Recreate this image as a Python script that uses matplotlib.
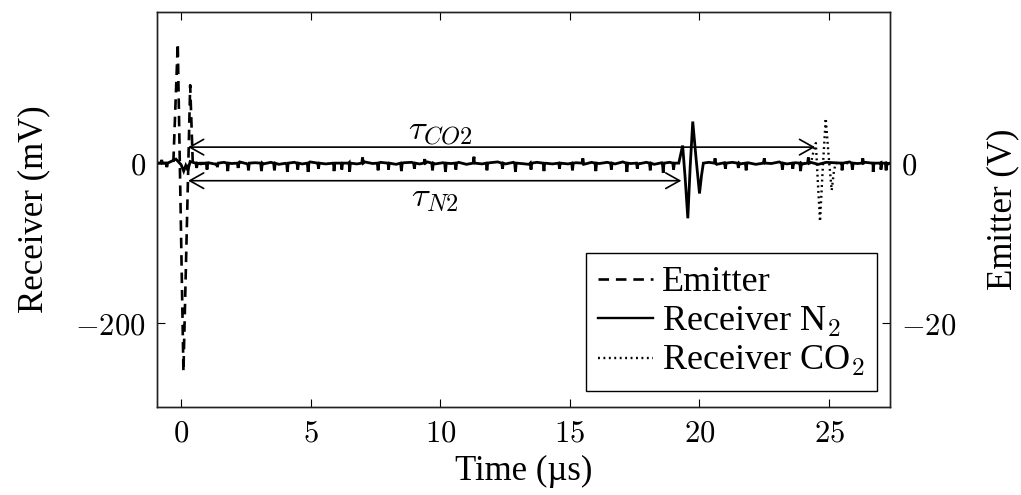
import numpy as np
import matplotlib
matplotlib.use("Agg")
import matplotlib.pyplot as plt
from matplotlib.lines import Line2D

plt.rcParams['font.family'] = ['Liberation Serif', 'DejaVu Serif']
plt.rcParams['mathtext.fontset'] = 'cm'

# ---------------- data ----------------
x_range = [-0.93, 27.35]          # time axis extent (µs)
y_left_range = [-305, 189]        # receiver (mV)
y_right_range = [-30.5, 18.9]     # emitter (V)

x_ticks = [0, 5, 10, 15, 20, 25]
y_left_ticks = [-200, 0]
y_right_ticks = [-20, 0]

# Emitter pulse (V)
emitter_t = [-0.93, -0.30, -0.13, 0.09, 0.35, 0.45, 1.0]
emitter_v = [0, 0, 15.0, -26.1, 9.75, 0, 0]

# Receiver N2 burst (mV)
n2_burst_t = [19.20, 19.28, 19.35, 19.45, 19.55, 19.64, 19.74, 19.87, 20.00, 20.08, 20.15]
n2_burst_v = [0, 12, 22, -20, -69, -5, 52, 5, -38, -15, 0]

# Receiver N2 disturbance near t = 0 (mV)
n2_start_t = [-0.20, 0.00, 0.10, 0.18, 0.26, 0.35]
n2_start_v = [5, -2, -10, -3, -9, 2]

# Receiver N2 noise spikes (mV)
spike_t = [-0.75, -0.55, 0.6, 1.0, 1.4, 1.8, 2.2, 2.6, 3.1, 3.6, 4.1, 4.5, 4.9, 5.3,
           5.9, 6.2, 6.5, 7.0, 7.6, 8.0, 8.5, 9.0, 9.4, 9.7, 10.2, 10.6, 11.3, 11.8,
           12.4, 12.9, 13.5, 14.0, 14.6, 15.1, 15.5, 16.0, 16.6, 17.2, 17.6, 18.1,
           18.6, 19.0, 20.6, 21.0, 21.5, 21.8, 22.5, 23.2, 23.6, 23.9, 24.2, 25.5,
           25.9, 26.3, 26.7, 27.0, 27.2]
spike_v = [4, -5, -6, -8, -5, -10, -6, -9, -10, -9, -11, -8, -11, -7,
           -10, -8, -11, 7, -9, -8, -10, -7, 5, -9, -11, -8, 8, -9,
           -7, -11, -8, -10, -7, -9, 6, -10, -8, -11, -7, -9,
           -12, -8, 6, -7, -6, -9, 6, -8, -7, -10, 7, -9,
           -8, 6, -11, -8, -9]

# Receiver N2 small baseline jitter (mV), evenly spread over the trace
jitter_v = [1, -1, 0.5, -1.5, 1, -0.5, 1.5, -1, 0.5, -1, 1, -1.5, 0.5, 1, -1, 1.5, -0.5, -1, 1, -1.5,
            0.5, -1, 1.5, -0.5, 1, -1, -1.5, 0.5, 1, -1, 1.5, -1, 0.5, -0.5, 1, -1.5, 1, -1, 0.5, 1.5,
            -1, 1, -0.5, -1.5, 1, 0.5, -1, 1.5, -1, 0.5, -1.5, 1, -0.5, 1, -1, 1.5, -0.5, -1, 1, -1.5,
            0.5, 1, -1, 1.5, -1, -0.5, 1, -1.5, 0.5, 1, -1, 0.5, -1.5, 1, -0.5, 1.5, -1, 0.5, -1, 1,
            -1.5, 1, 0.5, -1, 1.5, -0.5, 1, -1, 0.5, -1]

# Receiver CO2 burst (mV)
co2_burst_t = [24.30, 24.40, 24.49, 24.56, 24.65, 24.75, 24.87, 24.98, 25.10, 25.18, 25.25]
co2_burst_v = [0, 15, 25, -20, -73, -10, 56, 10, -34, -12, 0]

# Time-of-flight arrows
tau_co2 = {'t0': 0.27, 't1': 24.46, 'y': 20, 'label': r'$\tau_{CO2}$', 'lx': 10.0, 'ly': 40}
tau_n2 = {'t0': 0.27, 't1': 19.30, 'y': -22, 'label': r'$\tau_{N2}$', 'lx': 9.8, 'ly': -43}

legend_labels = ['Emitter', r'Receiver N$_2$', r'Receiver CO$_2$']

# ---------------- build N2 series ----------------
pts = [(x_range[0], 0.0), (x_range[1], 0.0)]
for t, v in zip(spike_t, spike_v):
    pts += [(t - 0.03, 0.0), (t, v), (t + 0.03, 0.0)]
jt = np.linspace(0.45, 27.3, len(jitter_v))
for t, v in zip(jt, jitter_v):
    if not (19.1 < t < 20.25):
        pts.append((t, v))
pts += list(zip(n2_start_t, n2_start_v))
pts += list(zip(n2_burst_t, n2_burst_v))
pts.sort(key=lambda p: p[0])
n2_t = np.array([p[0] for p in pts])
n2_v = np.array([p[1] for p in pts])

co2_t = [23.8] + co2_burst_t + [25.8]
co2_v = [0] + co2_burst_v + [0]

# ---------------- figure ----------------
fig = plt.figure(figsize=(10.21, 4.95), dpi=100)
ax = fig.add_axes([157 / 1021, 1 - 407 / 495, 733 / 1021, 395 / 495])
ax2 = ax.twinx()

FS_TICK = 22
FS_LABEL = 25
FS_LEG = 26

DASH = (0, (4, 2.6))
DOT = (0, (0.8, 1.5))

ax.plot(co2_t, co2_v, color='black', lw=1.7, linestyle=DOT)
ax.plot(n2_t, n2_v, color='black', lw=2.0, solid_joinstyle='miter')
ax2.plot(emitter_t, emitter_v, color='black', lw=1.9, linestyle=DASH)

ax.set_xlim(*x_range)
ax.set_ylim(*y_left_range)
ax2.set_ylim(*y_right_range)

ax.set_xticks(x_ticks)
ax.set_xticklabels([f'${v}$' for v in x_ticks], fontsize=FS_TICK)
ax.set_yticks(y_left_ticks)
ax.set_yticklabels([f'${v}$' for v in y_left_ticks], fontsize=FS_TICK)
ax2.set_yticks(y_right_ticks)
ax2.set_yticklabels([f'${v}$' for v in y_right_ticks], fontsize=FS_TICK)

ax.tick_params(axis='x', direction='in', top=True, length=6, width=0.8, pad=9)
ax.tick_params(axis='y', direction='in', length=6, width=0.8, pad=8)
ax2.tick_params(axis='y', direction='in', length=6, width=0.8, pad=8)

for a in (ax, ax2):
    for s in a.spines.values():
        s.set_linewidth(1.0)
        s.set_color('#222222')

ax.set_xlabel('Time (µs)', fontsize=FS_LABEL)
ax.set_ylabel('Receiver (mV)', fontsize=FS_LABEL)
ax2.set_ylabel('Emitter (V)', fontsize=FS_LABEL)
ax.xaxis.set_label_coords(0.5, -0.122)
ax.yaxis.set_label_coords(-0.146, 0.5)
ax2.yaxis.set_label_coords(1.132, 0.5)

# arrows
for tau in (tau_co2, tau_n2):
    ax.annotate('', xy=(tau['t1'], tau['y']), xytext=(tau['t0'], tau['y']),
                arrowprops=dict(arrowstyle='<->,head_length=0.5,head_width=0.28',
                                lw=1.2, color='black', shrinkA=0, shrinkB=0,
                                mutation_scale=20))
    ax.text(tau['lx'], tau['ly'], tau['label'], fontsize=FS_LABEL, ha='center', va='center')

handles = [Line2D([], [], color='black', lw=1.9, linestyle=DASH),
           Line2D([], [], color='black', lw=1.7),
           Line2D([], [], color='black', lw=1.7, linestyle=DOT)]
leg = ax2.legend(handles, legend_labels, loc='lower right',
                 bbox_to_anchor=(0.982, 0.0405), borderaxespad=0, fontsize=FS_LEG,
                 fancybox=False, framealpha=1, edgecolor='black',
                 handlelength=1.5, handletextpad=0.25, labelspacing=0.15, borderpad=0.35)
leg.get_frame().set_linewidth(1.0)

fig.savefig('out.png', dpi=100)
